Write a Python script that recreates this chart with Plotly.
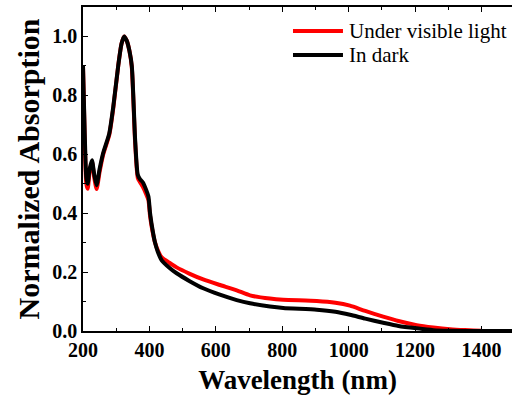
import plotly.graph_objects as go

wl_dark = [200, 205, 210, 214, 220, 227, 234, 241, 250, 261, 279, 291, 306, 316, 324, 332, 340, 347, 357, 365, 372, 380, 390, 397, 402, 410, 417, 425, 437, 460, 482, 520, 562, 610, 663, 703, 763, 803, 904, 960, 1004, 1050, 1104, 1150, 1205, 1255, 1300, 1400, 1500]
abs_dark = [0.90, 0.68, 0.52, 0.50, 0.55, 0.58, 0.53, 0.495, 0.55, 0.605, 0.67, 0.76, 0.90, 0.975, 1.0, 0.985, 0.95, 0.90, 0.65, 0.53, 0.515, 0.505, 0.48, 0.457, 0.40, 0.34, 0.30, 0.27, 0.24, 0.215, 0.196, 0.17, 0.145, 0.124, 0.105, 0.094, 0.083, 0.078, 0.072, 0.065, 0.055, 0.042, 0.028, 0.017, 0.009, 0.003, 0.001, 0.0, 0.0]

wl_light = [200, 205, 210, 214, 220, 227, 234, 241, 250, 261, 279, 291, 306, 316, 324, 332, 340, 347, 357, 365, 372, 380, 390, 397, 402, 410, 417, 425, 437, 460, 482, 520, 562, 610, 663, 703, 763, 803, 904, 960, 1004, 1050, 1104, 1150, 1205, 1255, 1305, 1350, 1400, 1500]
abs_light = [0.90, 0.66, 0.50, 0.483, 0.54, 0.575, 0.52, 0.482, 0.54, 0.60, 0.665, 0.755, 0.90, 0.975, 1.0, 0.985, 0.95, 0.895, 0.64, 0.52, 0.505, 0.49, 0.465, 0.445, 0.39, 0.335, 0.30, 0.275, 0.25, 0.232, 0.216, 0.195, 0.175, 0.157, 0.138, 0.121, 0.110, 0.106, 0.102, 0.096, 0.086, 0.068, 0.049, 0.034, 0.020, 0.012, 0.006, 0.003, 0.001, 0.0]

series_names = ["Under visible light", "In dark"]
series_colors = ["#ff0000", "#000000"]

x_ticks = [200, 400, 600, 800, 1000, 1200, 1400]
y_ticks = [0.0, 0.2, 0.4, 0.6, 0.8, 1.0]

font_family = "Liberation Serif"

fig = go.Figure()
fig.add_trace(go.Scatter(x=wl_light, y=abs_light, mode="lines", name=series_names[0], showlegend=False,
                         line=dict(color=series_colors[0], width=4, shape="spline", smoothing=0.6)))
fig.add_trace(go.Scatter(x=wl_dark, y=abs_dark, mode="lines", name=series_names[1], showlegend=False,
                         line=dict(color=series_colors[1], width=4, shape="spline", smoothing=0.6)))

# legend drawn as line samples + text labels
legend_rows_y = [0.926, 0.852]
for name, color, ly in zip(series_names, series_colors, legend_rows_y):
    fig.add_shape(type="line", xref="paper", yref="paper", x0=0.4895, x1=0.606, y0=ly, y1=ly,
                  line=dict(color=color, width=4))
    fig.add_annotation(xref="paper", yref="paper", x=0.616, y=ly, xanchor="left", yanchor="middle",
                       text=name, showarrow=False,
                       font=dict(family=font_family, size=21, color="black"))

fig.update_layout(
    width=512, height=401,
    margin=dict(l=83, r=0, t=7, b=70),
    plot_bgcolor="white", paper_bgcolor="white",
    font=dict(family=font_family, color="black"),
    showlegend=False,
)
fig.update_xaxes(
    range=[200, 1492], tickmode="array", tickvals=x_ticks,
    ticktext=["<b>%d</b>" % v for v in x_ticks],
    ticks="inside", ticklen=5, tickwidth=1.2, tickcolor="black",
    minor=dict(dtick=100, tick0=200, ticks="inside", ticklen=3, tickcolor="black"),
    showline=True, linecolor="black", linewidth=1.5, mirror="allticks",
    showgrid=False, zeroline=False,
    tickfont=dict(family=font_family, size=20, color="black"),
    title=dict(text="<b>Wavelength (nm)</b>", font=dict(family=font_family, size=27, color="black"), standoff=10),
)
fig.update_yaxes(
    range=[0, 1.1], tickmode="array", tickvals=y_ticks,
    ticktext=["<b>%.1f</b>" % v for v in y_ticks],
    ticks="inside", ticklen=5, tickwidth=1.2, tickcolor="black",
    minor=dict(dtick=0.1, tick0=0, ticks="inside", ticklen=3, tickcolor="black"),
    showline=True, linecolor="black", linewidth=1.5, mirror=False,
    showgrid=False, zeroline=False,
    tickfont=dict(family=font_family, size=20, color="black"),
    title=dict(text="<b>Normalized Absorption</b>", font=dict(family=font_family, size=30, color="black"), standoff=4),
)

fig.write_html("out.html")
